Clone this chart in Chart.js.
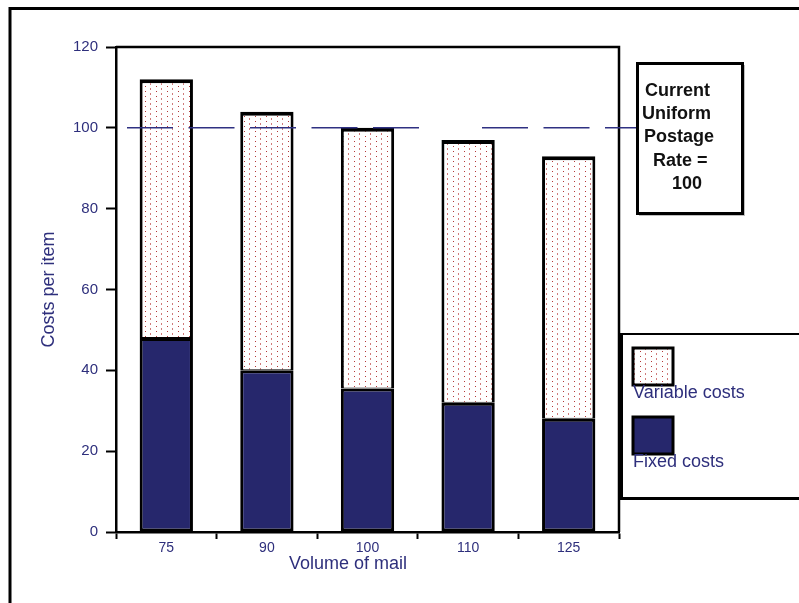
<!DOCTYPE html>
<html>
<head>
<meta charset="utf-8">
<script src="https://cdn.jsdelivr.net/npm/chart.js@4/dist/chart.umd.min.js"></script>
<style>
  html, body { margin: 0; padding: 0; background: #fff; }
  #wrap { width: 799px; height: 603px; }
</style>
</head>
<body>
<div id="wrap"><canvas id="c" width="799" height="603"></canvas></div>
<script>
// Cost per item at each volume of mail
const volumes = ['75', '90', '100', '110', '125'];
const fixedCosts = [48, 40, 35.5, 32, 28];
const variableCosts = [64, 64, 64.5, 65, 65];
const uniformRate = 100;
const rateNote = ['Current', 'Uniform', 'Postage', 'Rate =', '100'];
const seriesNames = ['Variable costs', 'Fixed costs'];

const NAVY = '#26276c';
const TEXT = '#2e2f7c';
const FONT = 'Arial, "Liberation Sans", sans-serif';

// Fine red dot texture for the variable-cost bars
function dotPattern() {
  const t = document.createElement('canvas');
  t.width = 11; t.height = 10;
  const g = t.getContext('2d');
  g.fillStyle = '#fff';
  g.fillRect(0, 0, 11, 10);
  g.fillStyle = 'rgba(178,55,55,1)';
  g.fillRect(2, 1, 1, 1);
  g.fillRect(2, 6, 1, 1);
  g.fillStyle = 'rgba(200,100,100,0.85)';
  g.fillRect(7, 3, 1, 2);
  g.fillRect(7, 8, 1, 2);
  return document.getElementById('c').getContext('2d').createPattern(t, 'repeat');
}
const dots = dotPattern();

const decorations = {
  id: 'decorations',
  beforeDraw(chart) {
    const ctx = chart.ctx;
    ctx.save();
    ctx.fillStyle = '#fff';
    ctx.fillRect(0, 0, chart.width, chart.height);
    ctx.restore();
  },
  afterDatasetsDraw(chart) {
    const { ctx, chartArea: a, scales: { y } } = chart;
    ctx.save();
    // top and right edges of the plot box
    ctx.strokeStyle = '#000';
    ctx.lineWidth = 2.5;
    ctx.beginPath();
    ctx.moveTo(a.left, a.top);
    ctx.lineTo(a.right, a.top);
    ctx.lineTo(a.right, a.bottom);
    ctx.stroke();

    // dashed reference line at the uniform postage rate
    const yr = y.getPixelForValue(uniformRate);
    ctx.strokeStyle = '#2f3182';
    ctx.lineWidth = 1.5;
    ctx.setLineDash([46, 15.5]);
    [[127, 421], [482, 637]].forEach(([x0, x1]) => {
      ctx.beginPath();
      ctx.moveTo(x0, yr);
      ctx.lineTo(x1, yr);
      ctx.stroke();
    });
    ctx.restore();
  },
  afterDraw(chart) {
    const ctx = chart.ctx;
    const ds = chart.data.datasets;
    ctx.save();

    // outer frame
    ctx.strokeStyle = '#000';
    ctx.lineWidth = 3;
    ctx.beginPath();
    ctx.moveTo(10, 603);
    ctx.lineTo(10, 8.5);
    ctx.lineTo(799, 8.5);
    ctx.stroke();

    // x-axis title
    ctx.fillStyle = TEXT;
    ctx.font = '18px ' + FONT;
    ctx.textAlign = 'center';
    ctx.textBaseline = 'middle';
    ctx.fillText('Volume of mail', 348, 564);

    // note box about the current rate
    ctx.fillStyle = 'rgba(0,0,0,0.25)';
    ctx.fillRect(639, 65, 106, 151);
    ctx.fillStyle = '#fff';
    ctx.fillRect(637, 63, 106, 151);
    ctx.strokeStyle = '#000';
    ctx.lineWidth = 3;
    ctx.strokeRect(637.5, 63.5, 105, 150);
    ctx.fillStyle = '#111';
    ctx.font = 'bold 18px ' + FONT;
    ctx.textAlign = 'left';
    const noteX = [645, 642, 644, 653, 672];
    rateNote.forEach((s, i) => ctx.fillText(s, noteX[i], 91 + i * 23.2));

    // legend box
    ctx.fillStyle = '#fff';
    ctx.fillRect(621, 334, 178, 164);
    ctx.strokeStyle = '#000';
    ctx.lineWidth = 2;
    ctx.beginPath();
    ctx.moveTo(799, 334); ctx.lineTo(621.5, 334);
    ctx.stroke();
    ctx.lineWidth = 3;
    ctx.beginPath();
    ctx.moveTo(621.5, 333); ctx.lineTo(621.5, 498.5); ctx.lineTo(799, 498.5);
    ctx.stroke();

    const items = [
      { fill: ds[1].backgroundColor, label: seriesNames[0], top: 348 },
      { fill: ds[0].backgroundColor, label: seriesNames[1], top: 417 }
    ];
    items.forEach(it => {
      ctx.fillStyle = it.fill;
      ctx.fillRect(633, it.top, 40, 37);
      ctx.strokeStyle = '#000';
      ctx.lineWidth = 3;
      ctx.strokeRect(633, it.top, 40, 37);
      ctx.fillStyle = TEXT;
      ctx.font = '18px ' + FONT;
      ctx.textAlign = 'left';
      ctx.textBaseline = 'middle';
      ctx.fillText(it.label, 633, it.top + 45);
    });
    ctx.restore();
  }
};

new Chart(document.getElementById('c'), {
  type: 'bar',
  data: {
    labels: volumes,
    datasets: [
      {
        label: seriesNames[1],
        data: fixedCosts,
        backgroundColor: NAVY,
        borderColor: '#000',
        borderWidth: 3,
        borderSkipped: false,
        barPercentage: 0.53,
        categoryPercentage: 1
      },
      {
        label: seriesNames[0],
        data: variableCosts,
        backgroundColor: dots,
        borderColor: '#000',
        borderWidth: { top: 4, left: 3, right: 3, bottom: 1 },
        borderSkipped: false,
        barPercentage: 0.53,
        categoryPercentage: 1
      }
    ]
  },
  options: {
    responsive: false,
    animation: false,
    devicePixelRatio: 1,
    layout: { padding: { left: 0, top: 47, right: 180, bottom: 0 } },
    plugins: {
      legend: { display: false },
      tooltip: { enabled: false }
    },
    scales: {
      x: {
        stacked: true,
        grid: {
          offset: true,
          drawOnChartArea: false,
          drawTicks: true,
          tickLength: 7,
          tickWidth: 2,
          tickColor: '#000'
        },
        border: { color: '#000', width: 2.5 },
        ticks: { color: TEXT, font: { family: FONT, size: 14 }, padding: 1 },
        afterFit(s) { s.height = 71; }
      },
      y: {
        stacked: true,
        min: 0,
        max: 120,
        ticks: { stepSize: 20, color: TEXT, font: { family: FONT, size: 15 }, padding: 8 },
        grid: {
          drawOnChartArea: false,
          drawTicks: true,
          tickLength: 10,
          tickWidth: 2,
          tickColor: '#000'
        },
        border: { color: '#000', width: 2.5 },
        title: {
          display: true,
          text: 'Costs per item',
          color: TEXT,
          font: { family: FONT, size: 18 },
          padding: { top: 38, bottom: 0 }
        },
        afterFit(s) { s.width = 116; }
      }
    }
  },
  plugins: [decorations]
});
</script>
</body>
</html>
